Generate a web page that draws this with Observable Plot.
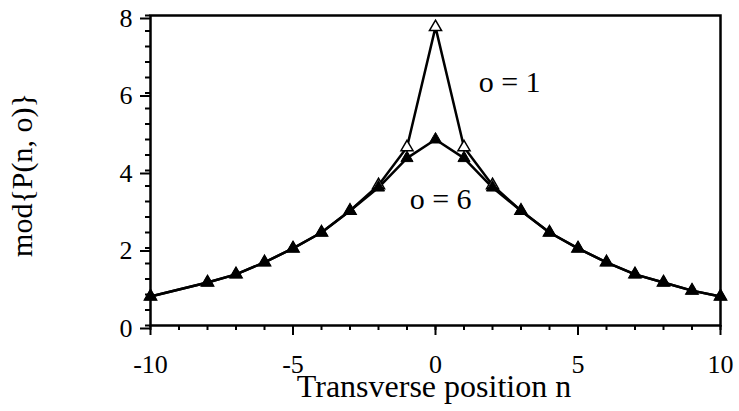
<!DOCTYPE html>
<html>
<head>
<meta charset="utf-8">
<script src="https://cdn.jsdelivr.net/npm/d3@7"></script>
<script src="https://cdn.jsdelivr.net/npm/@observablehq/plot@0.6"></script>
<style>
  html, body { margin: 0; padding: 0; background: #fff; }
  #chart svg { display: block; }
  #chart svg text, #chart svg g[aria-label] {
    font-family: "Liberation Serif", Tinos, Times, "DejaVu Serif", serif !important;
  }
</style>
</head>
<body>
<div id="chart"></div>
<script>
// Transverse positions sampled (no sample at n = -9)
const positions = [-10, -8, -7, -6, -5, -4, -3, -2, -1, 0, 1, 2, 3, 4, 5, 6, 7, 8, 9, 10];
// mod{P(n, o)} for o = 1 and o = 6
const modO1 = [0.75, 1.11, 1.32, 1.63, 1.99, 2.4, 2.96, 3.62, 4.6, 7.7, 4.6, 3.62, 2.96, 2.4, 1.99, 1.63, 1.32, 1.11, 0.9, 0.75];
const modO6 = [0.75, 1.11, 1.32, 1.63, 1.99, 2.4, 2.96, 3.56, 4.32, 4.8, 4.32, 3.56, 2.96, 2.4, 1.99, 1.63, 1.32, 1.11, 0.9, 0.75];

const xMajor = [-10, -5, 0, 5, 10];
const xMinor = d3.range(-10, 11, 1);
const yMajor = [0, 2, 4, 6, 8];
const yMinor = d3.range(0, 8.01, 0.4);

// Curve annotations, placed in data units
const curveLabels = [
  {n: 2.6, v: 6.27, text: "o = 1"},
  {n: 0.18, v: 3.25, text: "o = 6"}
];

const o1 = positions.map((n, i) => ({n, v: modO1[i]}));
const o6 = positions.map((n, i) => ({n, v: modO6[i]}));

const serif = "'Liberation Serif', Tinos, Times, 'DejaVu Serif', serif";

const chart = Plot.plot({
  width: 739,
  height: 411,
  marginLeft: 150,
  marginRight: 19,
  marginTop: 15,
  marginBottom: 86,
  style: {fontFamily: serif, fontSize: "26px", color: "#000", background: "#fff"},
  x: {domain: [-10, 10]},
  y: {domain: [0, 8]},
  marks: [
    Plot.frame({stroke: "#000", strokeWidth: 2.5}),
    // minor ticks
    Plot.axisX({ticks: xMinor, tickSize: 5, strokeWidth: 2, text: null, label: null}),
    Plot.axisY({ticks: yMinor, tickSize: 5, strokeWidth: 2, text: null, label: null}),
    // major ticks with labels
    Plot.axisX({ticks: xMajor, tickSize: 10, strokeWidth: 2, tickPadding: 19, fontSize: 26,
                fontFamily: serif, tickFormat: d => `${d}`, label: null}),
    Plot.axisY({ticks: yMajor, tickSize: 10, strokeWidth: 2, tickPadding: 8, fontSize: 26, dy: 3,
                fontFamily: serif, tickFormat: d => `${d}`, label: null}),
    Plot.line(o1, {x: "n", y: "v", stroke: "#000", strokeWidth: 2.5}),
    Plot.line(o6, {x: "n", y: "v", stroke: "#000", strokeWidth: 2.5}),
    Plot.dot(o1, {x: "n", y: "v", symbol: "triangle", r: 4.5, fill: "#fff", stroke: "#000", strokeWidth: 1.5}),
    Plot.dot(o6, {x: "n", y: "v", symbol: "triangle", r: 4.5, fill: "#000", stroke: "#000", strokeWidth: 1}),
    Plot.text(curveLabels, {x: "n", y: "v", text: "text", fontSize: 30, fontFamily: serif, fill: "#000"})
  ]
});

const svg = d3.select(chart);
// x-axis title
svg.append("text")
  .attr("x", 434)
  .attr("y", 397)
  .attr("text-anchor", "middle")
  .attr("font-family", serif)
  .attr("font-size", 32)
  .attr("fill", "#000")
  .text("Transverse position n");
// rotated y-axis title
svg.append("text")
  .attr("transform", "translate(25,175) rotate(-90)")
  .attr("text-anchor", "middle")
  .attr("dominant-baseline", "middle")
  .attr("font-family", serif)
  .attr("font-size", 30)
  .attr("fill", "#000")
  .text("mod{P(n, o)}");

document.getElementById("chart").append(chart);
</script>
</body>
</html>
